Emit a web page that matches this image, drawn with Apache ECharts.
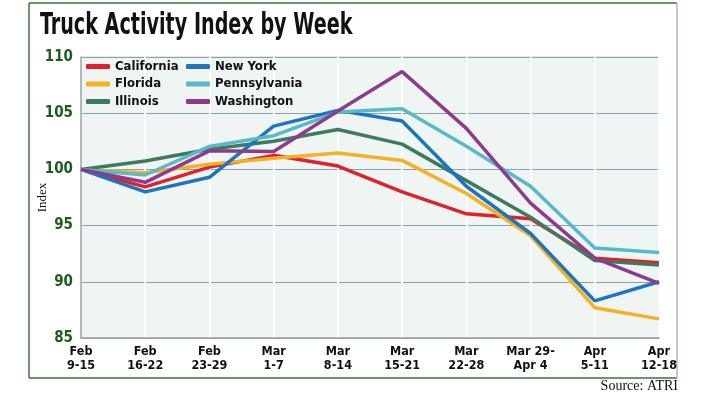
<!DOCTYPE html>
<html><head><meta charset="utf-8">
<script src="https://cdn.jsdelivr.net/npm/echarts@6/dist/echarts.min.js"></script>
<style>html,body{margin:0;padding:0;background:#fff}#c{width:708px;height:398px}</style>
</head><body><div id="c"></div>
<script>
const categories = ['Feb\n9-15','Feb\n16-22','Feb\n23-29','Mar\n1-7','Mar\n8-14','Mar\n15-21','Mar\n22-28','Mar 29-\nApr 4','Apr\n5-11','Apr\n12-18'];
const california   = [100, 98.45, 100.2, 101.25, 100.3, 98.0, 96.05, 95.6, 92.1, 91.7];
const florida      = [100, 99.7, 100.45, 101.0, 101.45, 100.8, 97.85, 94.1, 87.7, 86.7];
const illinois     = [100, 100.75, 101.8, 102.5, 103.55, 102.25, 99.0, 95.75, 91.9, 91.5];
const newYork      = [100, 98.0, 99.3, 103.85, 105.25, 104.3, 98.5, 94.3, 88.3, 90.0];
const pennsylvania = [100, 99.5, 102.05, 103.0, 105.1, 105.4, 102.05, 98.5, 93.0, 92.6];
const washington   = [100, 98.85, 101.65, 101.6, 105.2, 108.7, 103.65, 97.0, 92.1, 89.85];
const yTicks = [85, 90, 95, 100, 105, 110];

const condensed = "'DejaVu Sans Condensed','DejaVu Sans',sans-serif";
const serif = "'Liberation Serif','DejaVu Serif',serif";

const seriesDefs = [
  ['California', california, '#e2202a'],
  ['Florida', florida, '#f5b025'],
  ['Illinois', illinois, '#3f7a5f'],
  ['New York', newYork, '#1f74c0'],
  ['Pennsylvania', pennsylvania, '#5ab9c6'],
  ['Washington', washington, '#8d3b8f']
];

const chart = echarts.init(document.getElementById('c'));
const legendCommon = {
  orient: 'vertical', top: 55, itemWidth: 24, itemHeight: 5, itemGap: 4.5,
  icon: 'roundRect',
  textStyle: { fontFamily: condensed, fontWeight: 'bold', fontSize: 13, color: '#111', padding: [0,0,0,0] }
};
chart.setOption({
  animation: false,
  backgroundColor: '#fff',
  legend: [
    Object.assign({}, legendCommon, { left: 81, data: ['California','Florida','Illinois'] }),
    Object.assign({}, legendCommon, { left: 181, data: ['New York','Pennsylvania','Washington'] })
  ],
  grid: {
    left: 81, right: 49, top: 57, bottom: 60, show: true,
    backgroundColor: '#eef5f3', borderColor: '#c9d3d3', borderWidth: 1
  },
  xAxis: {
    type: 'category', data: categories, boundaryGap: false,
    axisLine: { lineStyle: { color: '#9aa3a8', width: 1.5 } },
    axisTick: { show: false },
    axisLabel: { interval: 0, fontFamily: condensed, fontWeight: 'bold', fontSize: 12.5, color: '#111', lineHeight: 14, margin: 7 },
    splitLine: { show: true, lineStyle: { color: '#fbfdfd', width: 2 } }
  },
  yAxis: {
    type: 'value', min: yTicks[0], max: yTicks[yTicks.length-1], interval: 5,
    name: 'Index', nameLocation: 'middle', nameGap: 32, nameMoveOverlap: false,
    nameTextStyle: { fontFamily: serif, fontSize: 13, color: '#111' },
    axisLine: { show: true, lineStyle: { color: '#9aa3a8', width: 1.5 } },
    axisTick: { show: false },
    axisLabel: { fontFamily: condensed, fontWeight: 'bold', fontSize: 15, color: '#1d5c1d', margin: 8 },
    splitLine: { show: true, lineStyle: { color: '#8aa0b0', width: 1.2 } }
  },
  series: seriesDefs.map(([name, data, color]) => ({
    name, type: 'line', data, showSymbol: false, symbol: 'none',
    itemStyle: { color }, lineStyle: { color, width: 3.5 }, z: 3
  })),
  graphic: [
    { type: 'text', x: 40, y: 11, scaleX: 0.71, style: { text: 'Truck Activity Index by Week', font: "bold 30px 'DejaVu Sans Condensed','DejaVu Sans',sans-serif", fill: '#111' } },
    { type: 'line', shape: { x1: 29, y1: 3, x2: 677, y2: 3 }, style: { stroke: '#3f6f3f', lineWidth: 1.5 } },
    { type: 'line', shape: { x1: 29, y1: 3, x2: 29, y2: 378 }, style: { stroke: '#3f6f3f', lineWidth: 1.5 } },
    { type: 'line', shape: { x1: 29, y1: 378, x2: 677, y2: 378 }, style: { stroke: '#3f6f3f', lineWidth: 1.5 } },
    { type: 'line', shape: { x1: 677, y1: 3, x2: 677, y2: 378 }, style: { stroke: '#a9c2a9', lineWidth: 1.5 } },
    { type: 'text', right: 30, top: 379, style: { text: 'Source: ATRI', font: "14px 'Liberation Serif', serif", fill: '#111' } }
  ]
});
</script></body></html>
